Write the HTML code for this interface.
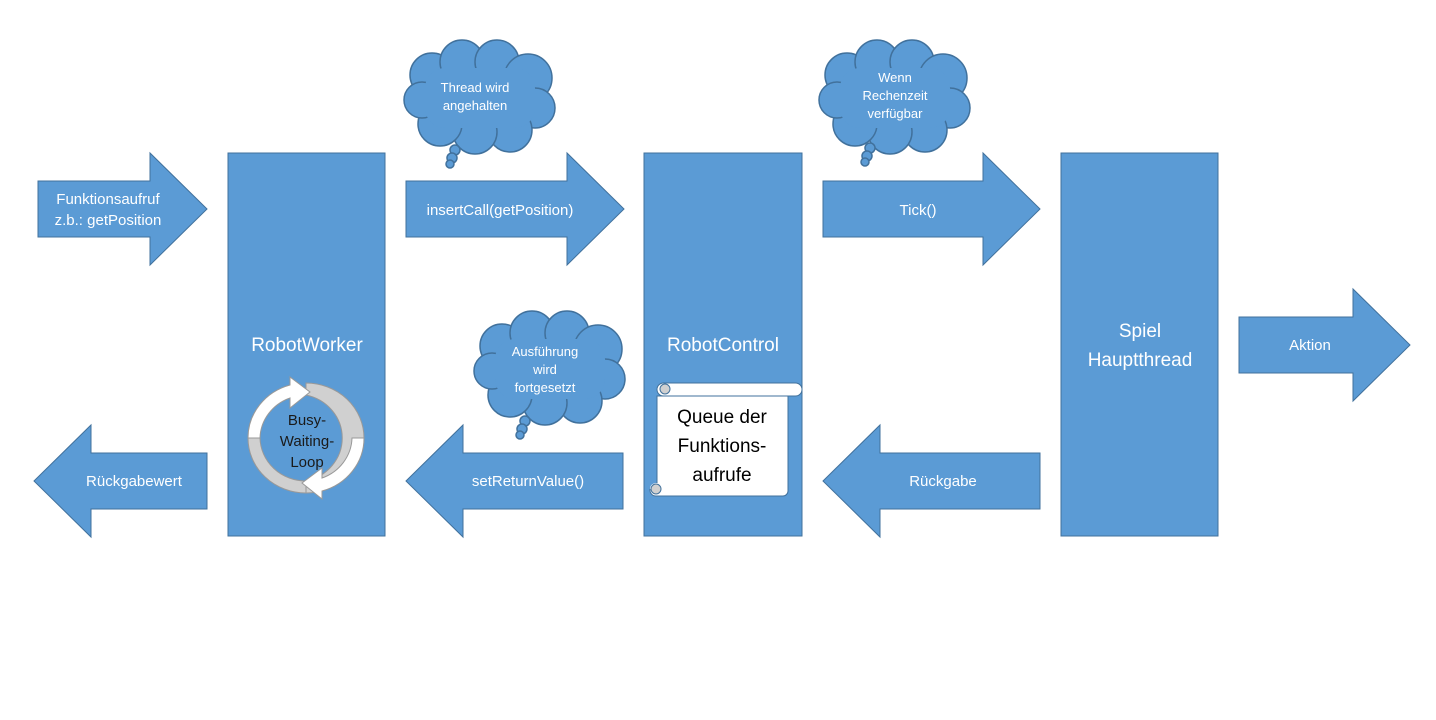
<!DOCTYPE html>
<html><head><meta charset="utf-8"><style>
body{margin:0;background:#fff}
svg{display:block}
text{font-family:"Liberation Sans",sans-serif}
</style></head><body>
<svg width="1436" height="720" viewBox="0 0 1436 720" xmlns="http://www.w3.org/2000/svg">
<g fill="#5b9bd5" stroke="#41719c" stroke-width="1">
<polygon points="38,181 150,181 150,153 207,209 150,265 150,237 38,237"/>
<polygon points="406,181 567,181 567,153 624,209 567,265 567,237 406,237"/>
<polygon points="823,181 983,181 983,153 1040,209 983,265 983,237 823,237"/>
<polygon points="1239,317 1353,317 1353,289 1410,345 1353,401 1353,373 1239,373"/>
<polygon points="34,481 91,425 91,453 207,453 207,509 91,509 91,537"/>
<polygon points="406,481 463,425 463,453 623,453 623,509 463,509 463,537"/>
<polygon points="823,481 880,425 880,453 1040,453 1040,509 880,509 880,537"/>
<rect x="228" y="153" width="157" height="383"/>
<rect x="644" y="153" width="158" height="383"/>
<rect x="1061" y="153" width="157" height="383"/>
</g>
<g fill="#5b9bd5" stroke="#41719c" stroke-width="1.5">
<g>
<circle cx="432" cy="75" r="22"/><circle cx="462" cy="62" r="22"/><circle cx="497" cy="62" r="22"/><circle cx="528" cy="78" r="24"/><circle cx="535" cy="108" r="20"/><circle cx="510" cy="130" r="22"/><circle cx="475" cy="132" r="22"/><circle cx="440" cy="124" r="22"/><circle cx="422" cy="100" r="18"/>
<circle cx="455" cy="150" r="5"/><circle cx="452" cy="158" r="5"/><circle cx="450" cy="164" r="4"/>
</g>
<g transform="translate(415,0)">
<circle cx="432" cy="75" r="22"/><circle cx="462" cy="62" r="22"/><circle cx="497" cy="62" r="22"/><circle cx="528" cy="78" r="24"/><circle cx="535" cy="108" r="20"/><circle cx="510" cy="130" r="22"/><circle cx="475" cy="132" r="22"/><circle cx="440" cy="124" r="22"/><circle cx="422" cy="100" r="18"/>
<circle cx="455" cy="148" r="5"/><circle cx="452" cy="156" r="5"/><circle cx="450" cy="162" r="4"/>
</g>
<g transform="translate(70,271)">
<circle cx="432" cy="75" r="22"/><circle cx="462" cy="62" r="22"/><circle cx="497" cy="62" r="22"/><circle cx="528" cy="78" r="24"/><circle cx="535" cy="108" r="20"/><circle cx="510" cy="130" r="22"/><circle cx="475" cy="132" r="22"/><circle cx="440" cy="124" r="22"/><circle cx="422" cy="100" r="18"/>
<circle cx="455" cy="150" r="5"/><circle cx="452" cy="158" r="5"/><circle cx="450" cy="164" r="4"/>
</g>
</g>
<g fill="#5b9bd5">
<rect x="425" y="68" width="110" height="60" rx="20"/>
<rect x="840" y="68" width="110" height="60" rx="20"/>
<rect x="495" y="339" width="110" height="60" rx="20"/>
</g>
<g stroke="#999" stroke-width="1">
<path d="M306,383 A58,55 0 0 1 306,493 L306,481 A46,44 0 0 0 306,395 Z" fill="#d0d0d0"/>
<path d="M306,493 A58,55 0 0 1 248,438 L260,438 A46,44 0 0 0 306,481 Z" fill="#d0d0d0"/>
<path d="M248,438 A58,55 0 0 1 290,385 L290,377 L310,392 L290,408 L290,398 A46,44 0 0 0 260,438 Z" fill="#fff"/>
<path d="M364,438 A58,55 0 0 1 322,491 L322,499 L302,483 L322,468 L322,478 A46,44 0 0 0 352,438 Z" fill="#fff"/>
</g>
<g stroke="#41719c" stroke-width="1">
<path d="M657,396 L657,490 L788,490 L788,396 Z" fill="#fff"/>
<rect x="657" y="383" width="145" height="13" rx="6.5" fill="#fff"/>
<circle cx="665" cy="389" r="5" fill="#d0d0d0"/>
<rect x="650" y="483" width="138" height="13" rx="6" fill="#fff" stroke="none"/>
<circle cx="656" cy="489" r="5" fill="#d0d0d0"/>
<path d="M650,489 A6,6 0 0 0 656,496 L783,496 A5,5 0 0 0 788,491 L788,396" fill="none"/>
</g>
<g fill="#fff" font-size="15" text-anchor="middle">
<text x="108" y="204">Funktionsaufruf</text>
<text x="108" y="225">z.b.: getPosition</text>
<text x="500" y="215">insertCall(getPosition)</text>
<text x="918" y="215">Tick()</text>
<text x="1310" y="350">Aktion</text>
<text x="134" y="486">Rückgabewert</text>
<text x="528" y="486">setReturnValue()</text>
<text x="943" y="486">Rückgabe</text>
<text x="307" y="351" font-size="19">RobotWorker</text>
<text x="723" y="351" font-size="19">RobotControl</text>
<text x="1140" y="337" font-size="19">Spiel</text>
<text x="1140" y="366" font-size="19">Hauptthread</text>
<text x="475" y="92" font-size="13">Thread wird</text>
<text x="475" y="110" font-size="13">angehalten</text>
<text x="895" y="82" font-size="13">Wenn</text>
<text x="895" y="100" font-size="13">Rechenzeit</text>
<text x="895" y="118" font-size="13">verfügbar</text>
<text x="545" y="356" font-size="13">Ausführung</text>
<text x="545" y="374" font-size="13">wird</text>
<text x="545" y="392" font-size="13">fortgesetzt</text>
</g>
<g fill="#1a1a1a" text-anchor="middle" font-size="15">
<text x="307" y="425">Busy-</text>
<text x="307" y="446">Waiting-</text>
<text x="307" y="467">Loop</text>
</g>
<g fill="#000" text-anchor="middle" font-size="19">
<text x="722" y="423">Queue der</text>
<text x="722" y="452">Funktions-</text>
<text x="722" y="481">aufrufe</text>
</g>
</svg>
</body></html>
